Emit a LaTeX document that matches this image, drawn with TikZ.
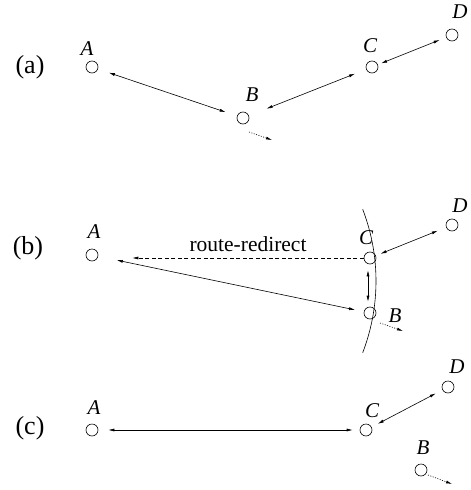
\documentclass[tikz,border=0pt]{standalone}
\usepackage{fontspec}
\setmainfont{Liberation Serif}
\usetikzlibrary{arrows.meta}
\begin{document}
\begin{tikzpicture}[x=1pt,y=-1pt,
  host/.style={circle,draw,line width=0.6pt,minimum size=12pt,inner sep=0pt},
  lbl/.style={font=\fontsize{21}{21}\selectfont\itshape,inner sep=0pt},
  panel/.style={font=\fontsize{26}{26}\selectfont,inner sep=0pt},
  txt/.style={font=\fontsize{21.5}{21.5}\selectfont,inner sep=0pt},
  tip/.tip={Latex[length=6pt,width=3pt]},
  link/.style={line width=0.6pt,tip-tip},
  move/.style={line width=0.6pt,dash pattern=on 1pt off 1.5pt,-tip},
  redir/.style={line width=0.6pt,dash pattern=on 4pt off 2.5pt,-tip},
  ]
\useasboundingbox (0,0) rectangle (471,490);

% ---------- (a) ----------
\node[panel] (capa) at (30,67) {(a)};
\node[host] (aA) at (92,67) {};
\node[host] (aB) at (243,118) {};
\node[host] (aC) at (372,67) {};
\node[host] (aD) at (452,35) {};
\node[lbl] (aAl) at (87,49) {A};
\node[lbl] (aBl) at (252,95) {B};
\node[lbl] (aCl) at (370,46) {C};
\node[lbl] (aDl) at (460,12) {D};
\draw[link,shorten <=11.5pt,shorten >=12pt] (aA) -- (aB);
\draw[link,shorten <=19pt,shorten >=12pt] (aB) -- (aC);
\draw[link,shorten <=3.5pt,shorten >=7pt] (aC) -- (aD);
\coordinate (aBs) at (249,132);
\coordinate (aBm) at (272,140);
\draw[move] (aBs) -- (aBm);

% ---------- (b) ----------
\node[panel] (capb) at (28,248) {(b)};
\node[host] (bA) at (92,255) {};
\node[host] (bC) at (370,258) {};
\node[host] (bB) at (370,313) {};
\node[host] (bD) at (452,225) {};
\node[lbl] (bAl) at (94,232) {A};
\node[lbl] (bCl) at (366,238) {C};
\node[lbl] (bBl) at (395,316) {B};
\node[lbl] (bDl) at (460,206) {D};
\node[txt] (rr) at (248,244.5) {route-redirect};
\draw[redir,shorten >=34pt] (bC.west) -- (bC.west -| bA.east);
\draw[link,shorten <=19pt,shorten >=9pt] (bA) -- (bB);
\draw[link,shorten <=5pt,shorten >=9pt] (bC) -- (bD);
\draw[link,shorten <=6pt,shorten >=5pt] ([xshift=-2pt]bC.south) -- ([xshift=-2pt]bB.north);
\coordinate (bBs) at (380,323);
\coordinate (bBm) at (403,331);
\draw[move] (bBs) -- (bBm);
\draw[line width=0.6pt,domain=-21:21,samples=40,smooth]
  plot ({176+200*cos(\x)},{281+200*sin(\x)});

% ---------- (c) ----------
\node[panel] (capc) at (30,428) {(c)};
\node[host] (cA) at (92,430) {};
\node[host] (cC) at (366,430) {};
\node[host] (cD) at (448,387) {};
\node[host] (cB) at (421,470) {};
\node[lbl] (cAl) at (94,408) {A};
\node[lbl] (cCl) at (372,411) {C};
\node[lbl] (cDl) at (457,367) {D};
\node[lbl] (cBl) at (423,448) {B};
\draw[link,shorten <=10pt,shorten >=7pt] (cA) -- (cC);
\draw[link,shorten <=7pt,shorten >=7.5pt] (cC) -- (cD);
\coordinate (cBs) at (428,475);
\coordinate (cBm) at (452,484);
\draw[move] (cBs) -- (cBm);
\end{tikzpicture}
\end{document}
